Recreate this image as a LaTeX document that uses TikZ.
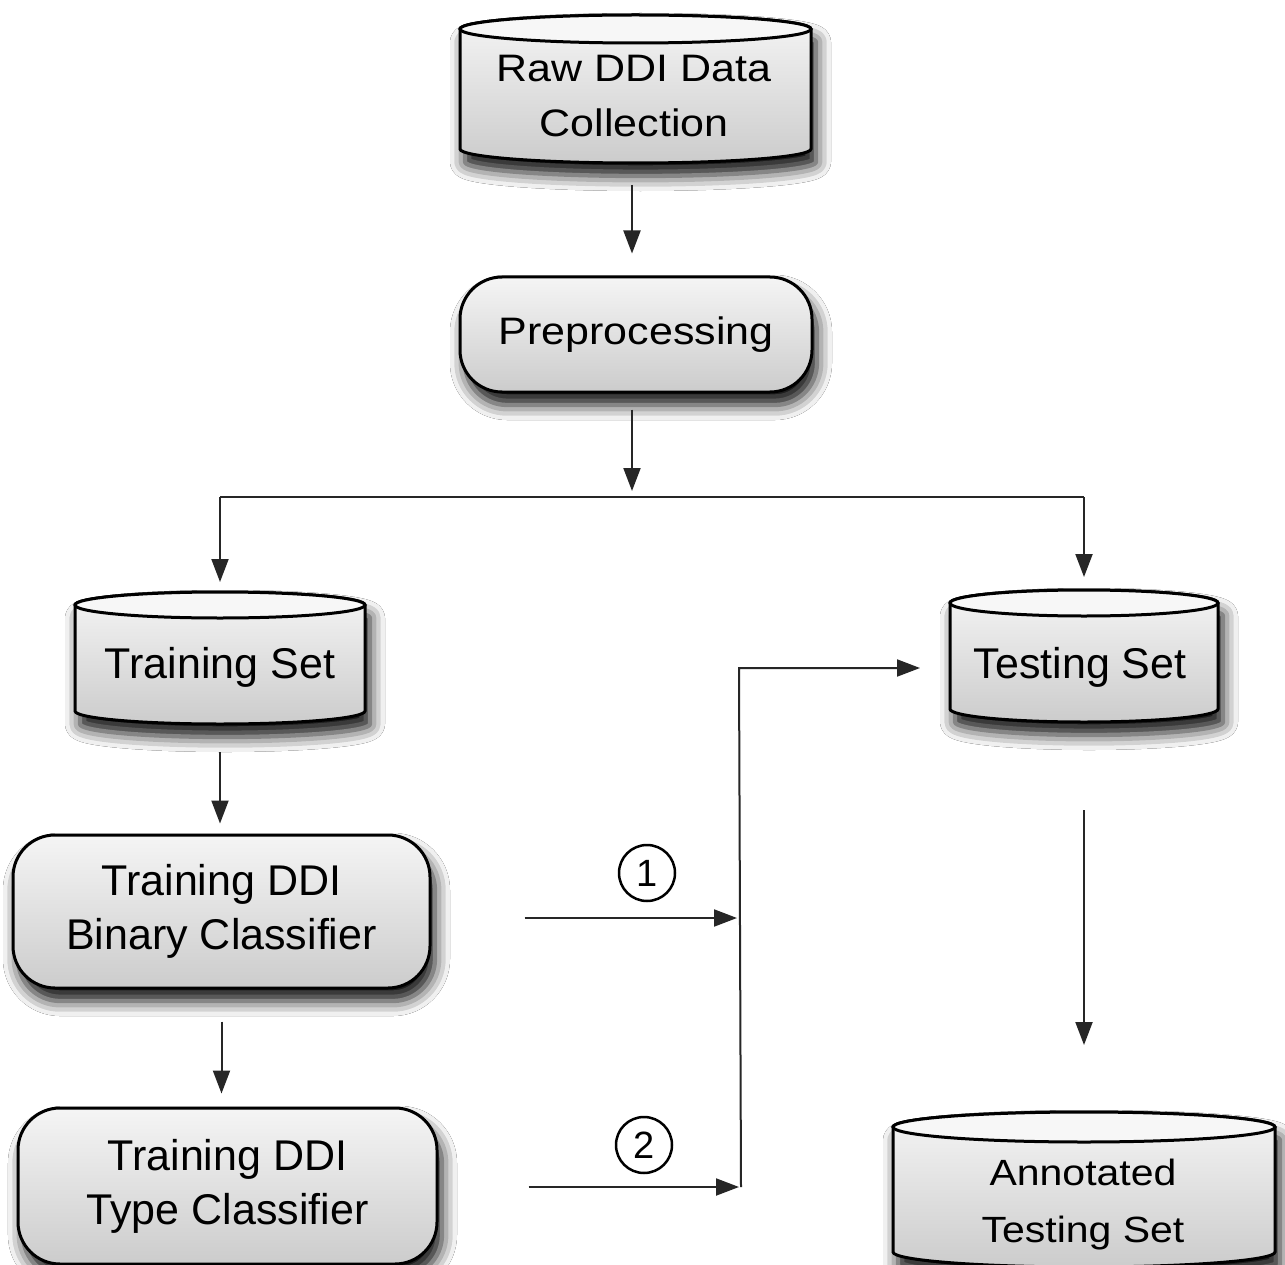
\documentclass[tikz,border=0pt]{standalone}
\usepackage{fontspec}
\usepackage{graphicx}
\setmainfont{Liberation Sans}
\usetikzlibrary{arrows.meta,shadows.blur,calc}
\newcommand\bigfont{\fontsize{43}{54}\selectfont}
\newcommand\sq[1]{\scalebox{1}[0.89]{#1}}
\tikzset{
 shapeline/.style={draw=black, line width=3pt},
 shadethree/.style={top color=white!96!black, bottom color=black!20},
 softshadow/.style={blur shadow={shadow xshift=5pt, shadow yshift=-13pt, shadow blur radius=15pt, shadow opacity=95}},
 cylbody/.style={shapeline, shadethree, softshadow},
 cyltop/.style={shapeline, fill=white!97!black},
 shapebox/.style={inner sep=0pt, outer sep=0pt},
 proc/.style={shapeline, shadethree, softshadow, rounded corners=42pt, inner sep=0pt, align=center, font=\bigfont},
 txt/.style={inner sep=0pt, anchor=north, align=center, font=\bigfont},
 arr/.style={draw=black!85, line width=2pt, -{Triangle[length=23pt,width=17pt]}},
 conn/.style={draw=black!85, line width=2pt},
 num/.style={circle, draw=black, line width=2.5pt, minimum size=56pt, inner sep=0pt, font=\fontsize{38}{40}\selectfont},
}
% #1 name, #2 x1, #3 x2, #4 top ellipse centre y, #5 side bottom y, #6 ellipse half height
\newcommand\dbcyl[6]{%
  \path[cylbody] (#2,#4) -- (#2,#5) arc[start angle=180,end angle=0,x radius={(#3-#2)/2},y radius=#6] -- (#3,#4) arc[start angle=0,end angle=-180,x radius={(#3-#2)/2},y radius=#6] -- cycle;
  \path[cyltop] ({(#2+#3)/2},#4) ellipse[x radius={(#3-#2)/2}, y radius=#6];
  \node[shapebox, minimum width={(#3-#2)*1pt}, minimum height={(#5-#4+2*#6)*1pt}] (#1) at ({(#2+#3)/2},{(#4+#5)/2}) {};
}
\begin{document}
\begin{tikzpicture}[x=1pt,y=-1pt]
\useasboundingbox[fill=white] (0,0) rectangle (1285,1265);
% cylinders
\dbcyl{raw}{460}{811}{29}{149}{14}
\dbcyl{train}{75}{365}{605}{711}{13}
\dbcyl{test}{950}{1218}{603}{709}{13}
\dbcyl{annot}{893}{1275}{1127}{1252}{15}
\node[txt, font=\fontsize{43}{55}\selectfont] (rawtxt) at (634,54.6) {\sq{Raw DDI Data}\\\sq{Collection}};
\node[txt] (traintxt) at (220,647) {Training Set};
\node[txt] (testtxt) at (1080,647) {Testing Set};
\node[txt, font=\fontsize{41}{57}\selectfont] (annottxt) at (1083,1159) {\sq{Annotated}\\\sq{Testing Set}};
% process boxes
\node[proc, minimum width=352pt, minimum height=115pt] (pre) at (636,334.5) {\sq{Preprocessing}};
\node[proc, minimum width=417pt, minimum height=153pt] (bin) at (221.5,911.5) {Training DDI\\Binary Classifier};
\node[proc, minimum width=419pt, minimum height=156pt] (typ) at (227.5,1186) {Training DDI\\Type Classifier};
% numbered circles
\node[num] (c1) at (647,873) {1};
\node[num] (c2) at (644,1145) {2};
% junction points
\coordinate (split) at (632,497);
\coordinate (j1) at (740,918);
\coordinate (j2) at (741,1187);
\coordinate (j3) at (739,668);
% connectors
\draw[arr, shorten <=22pt, shorten >=22pt] (raw.south -| split) -- (pre.north -| split);
\draw[arr, shorten <=16pt, shorten >=6pt] (pre.south -| split) -- (split);
\draw[conn] (split -| train.north) -- (split -| test.north);
\draw[arr, shorten >=10pt] (split -| train.north) -- (train.north);
\draw[arr, shorten >=13pt] (split -| test.north) -- (test.north);
\draw[arr, shorten <=28pt, shorten >=10pt] (train.south) -- (train.south |- bin.north);
\draw[arr, shorten <=32pt, shorten >=13pt] (bin.south) -- (bin.south |- typ.north);
\draw[arr, shorten <=93pt, shorten >=3pt] (j1 -| bin.east) -- (j1);
\draw[arr, shorten <=90pt, shorten >=2pt] (j2 -| typ.east) -- (j2);
\draw[arr, shorten >=30pt] (j2) -- (j3) -- (j3 -| test.west);
\draw[arr, shorten <=88pt, shorten >=67pt] (test.south) -- (test.south |- annot.north);
\end{tikzpicture}
\end{document}
